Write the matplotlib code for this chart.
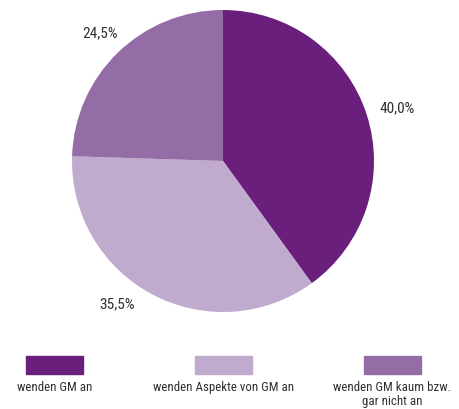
import matplotlib
matplotlib.use('Agg')
import matplotlib.pyplot as plt
from matplotlib import font_manager
from matplotlib.patches import Rectangle

# Shares of the three groups
categories = ['wenden GM an', 'wenden Aspekte von GM an', 'wenden GM kaum bzw.\ngar nicht an']
shares = [40.0, 35.5, 24.5]
colors = ['#6a1f7d', '#c0aacd', '#946ca6']

# pick a condensed sans if one is installed
available = {f.name for f in font_manager.fontManager.ttflist}
font = next((n for n in ['Roboto Condensed', 'Barlow Semi Condensed', 'Sofia Sans Semi Condensed']
             if n in available), 'DejaVu Sans')
plt.rcParams['font.family'] = [font, 'DejaVu Sans']
text_color = '#303030'

W, H = 460, 410
fig = plt.figure(figsize=(W / 100, H / 100), dpi=100)

# Pie axes, centered at (223, 162) px with radius 151 px
cx, cy, r = 223, 162, 151
ax = fig.add_axes([(cx - r) / W, (H - cy - r) / H, 2 * r / W, 2 * r / H])
ax.pie(shares, colors=colors, startangle=90, counterclock=False, radius=1,
       wedgeprops=dict(linewidth=0))
ax.set_xlim(-1, 1)
ax.set_ylim(-1, 1)
ax.set_aspect('auto')
ax.axis('off')

# Percentage labels outside the slices
label_pos = [(1.152, 0.358), (-0.70, -0.94), (-0.815, 0.854)]
for v, (x, y) in zip(shares, label_pos):
    ax.text(x, y, f'{v:.1f}%'.replace('.', ','), ha='center', va='center',
            fontsize=11, color=text_color)

# Legend: swatch above each label
swatch_x = [26, 195, 364]
for name, col, x0 in zip(categories, colors, swatch_x):
    fig.add_artist(Rectangle((x0 / W, 35 / H), 57 / W, 18 / H, color=col,
                             transform=fig.transFigure))
    fig.text((x0 + 28.5) / W, (H - 381) / H, name, ha='center', va='top',
             fontsize=9.3, color=text_color, linespacing=1.15)

fig.savefig('out.png', dpi=100)
